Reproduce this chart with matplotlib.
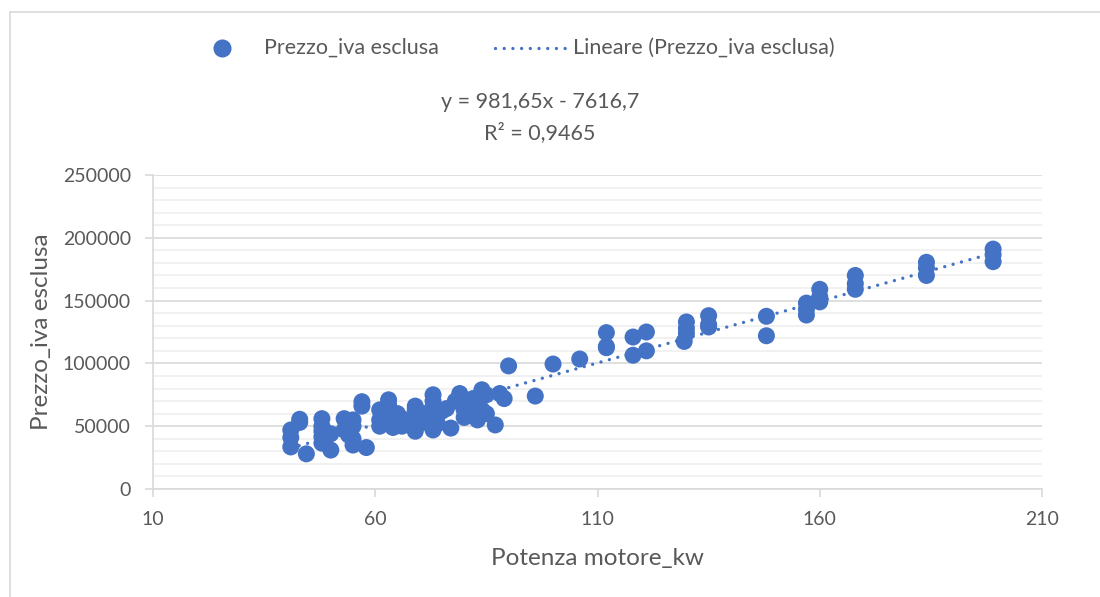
import matplotlib
matplotlib.use("Agg")
import matplotlib.pyplot as plt
from matplotlib.lines import Line2D
import numpy as np

plt.rcParams['font.family'] = ['Lato', 'DejaVu Sans']

# ---- data ----
potenza_kw = [41, 41, 41, 43, 43, 44.5,
              48, 48, 48, 48, 48, 50, 50,
              53, 53, 54, 55, 55, 55, 55,
              57, 57, 58,
              61, 61, 61, 62, 63, 63, 63, 64, 65, 66, 66,
              69, 69, 69, 69, 70, 71,
              73, 73, 73, 73, 73, 74, 75, 76,
              77, 78, 79, 79, 80, 80, 81, 82,
              83, 83, 84, 84, 85, 85, 87, 88, 89, 90,
              96, 100, 106,
              112, 112, 112,
              118, 118, 121, 121,
              130, 130, 130, 129.5,
              135, 135, 135,
              148, 148,
              157, 157, 157,
              160, 160, 160,
              168, 168, 168,
              184, 184, 184,
              199, 199, 199]
prezzo = [47000, 41000, 33500, 55500, 53000, 28000,
          56000, 50000, 46000, 41500, 36500, 31000, 44000,
          56000, 47000, 43000, 55000, 50000, 35000, 40000,
          69500, 66000, 33000,
          63000, 55000, 50000, 58000, 71000, 67000, 52000, 49000, 60000, 56000, 50000,
          66000, 63000, 57000, 46000, 52000, 60000,
          75000, 70000, 65500, 57000, 47000, 52000, 62000, 64000,
          48500, 70000, 76000, 69500, 63000, 57000, 66000, 72000,
          70000, 55000, 79000, 63000, 60000, 75000, 51000, 76000, 72000, 98000,
          74000, 99500, 103500,
          124500, 112500, 113500,
          121000, 106500, 125000, 110000,
          133000, 128000, 124000, 117500,
          138000, 129000, 131000,
          137500, 122000,
          148000, 143000, 138500,
          159000, 153000, 149000,
          170000, 163500, 159000,
          180500, 176000, 170000,
          191000, 186500, 181000]

trend_slope = 981.65
trend_intercept = -7616.7
equation_text = "y = 981,65x - 7616,7"
r2_text = "R² = 0,9465"

x_ticks = [10, 60, 110, 160, 210]
y_ticks = [0, 50000, 100000, 150000, 200000, 250000]

series_label = "Prezzo_iva esclusa"
trend_label = "Lineare (Prezzo_iva esclusa)"
x_title = "Potenza motore_kw"
y_title = "Prezzo_iva esclusa"

# ---- styling ----
blue = "#4472C4"
txt = "#595959"
grid_major = "#d9d9d9"
grid_minor = "#efefef"
W, H = 1100, 597

def fx(px):
    return px / W

def fy(py):
    return 1 - py / H

fig = plt.figure(figsize=(11, 5.97), dpi=100)
ax = fig.add_axes([fx(153), fy(489), (1042-153)/W, (489-175)/H])

# outer chart frame (partially cut off in the reference)
fig.add_artist(Line2D([fx(10), fx(10)], [0, fy(12)], color=grid_major, lw=1.2))
fig.add_artist(Line2D([fx(10), 1], [fy(12), fy(12)], color=grid_major, lw=1.2))

ax.scatter(potenza_kw, prezzo, s=150, color=blue, edgecolors='none', zorder=3)

dot_style = (0, (0.01, 2.6))
xs = np.array([min(potenza_kw), max(potenza_kw)])
ax.plot(xs, trend_slope*xs + trend_intercept, color=blue, lw=2.4,
        linestyle=dot_style, dash_capstyle='round', zorder=4)

ax.set_xlim(10, 210)
ax.set_ylim(0, 250000)
ax.set_xticks(x_ticks)
ax.set_yticks(y_ticks)
ax.set_yticks(np.arange(0, 250001, 10000), minor=True)
ax.tick_params(axis='y', which='minor', length=0)
ax.tick_params(axis='both', which='major', colors=grid_major, labelcolor=txt,
               labelsize=14, length=6, width=1.2)
ax.tick_params(axis='x', pad=10)
ax.tick_params(axis='y', pad=10)

ax.grid(axis='y', which='major', color=grid_major, lw=1.2, zorder=0)
ax.grid(axis='y', which='minor', color=grid_minor, lw=1.2, zorder=0)
ax.set_axisbelow(True)
for s in ['top', 'right']:
    ax.spines[s].set_visible(False)
for s in ['left', 'bottom']:
    ax.spines[s].set_color(grid_major)
    ax.spines[s].set_linewidth(1.2)

ax.set_xlabel(x_title, fontsize=17.5, color=txt, labelpad=14)
ax.set_ylabel(y_title, fontsize=17.5, color=txt, labelpad=8)

# equation
fig.text(fx(540), fy(102), equation_text, ha='center', va='center', fontsize=15.5, color=txt)
fig.text(fx(540), fy(133), r2_text, ha='center', va='center', fontsize=15.5, color=txt)

# legend (entries placed as in the reference)
fig.add_artist(Line2D([fx(222)], [fy(48)], marker='o', linestyle='none',
                      color=blue, markersize=12))
fig.text(fx(264), fy(48), series_label, ha='left', va='center', fontsize=15.5, color=txt)
fig.add_artist(Line2D([fx(495), fx(567)], [fy(48), fy(48)], color=blue, lw=2.4,
                      linestyle=dot_style, dash_capstyle='round'))
fig.text(fx(573), fy(48), trend_label, ha='left', va='center', fontsize=15.5, color=txt)

fig.savefig("out.png", dpi=100)
